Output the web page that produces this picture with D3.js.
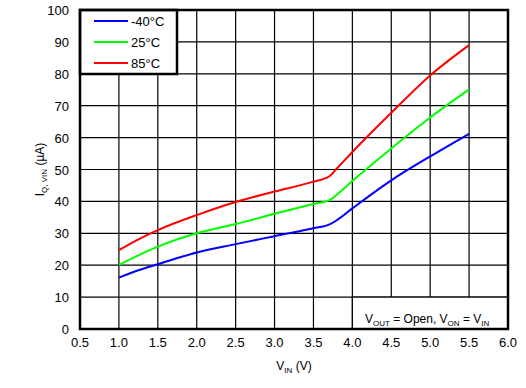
<!DOCTYPE html>
<html>
<head>
<meta charset="utf-8">
<script src="https://cdn.jsdelivr.net/npm/d3@7"></script>
<style>
  body { margin: 0; background: #fff; }
  svg text { font-family: "Liberation Sans", Arial, sans-serif; fill: #000; }
</style>
</head>
<body>
<svg id="chart" width="526" height="388"></svg>
<script>
// data
var vin = [1.0, 1.25, 1.5, 2.0, 2.5, 3.0, 3.5, 3.7, 3.8, 4.0, 4.5, 5.0, 5.5];
var iqMinus40 = [16.1, 18.4, 20.3, 24.0, 26.6, 29.1, 31.6, 32.7, 34.1, 37.8, 46.6, 54.1, 61.2];
var iq25 = [20.1, 23.1, 25.8, 30.0, 32.9, 36.1, 39.2, 40.3, 42.1, 46.4, 56.6, 66.3, 75.1];
var iq85 = [24.7, 28.1, 31.0, 35.7, 39.8, 43.1, 46.2, 47.8, 50.3, 55.5, 67.8, 79.5, 89.0];
var seriesNames = ["-40°C", "25°C", "85°C"];
var seriesColors = ["#0000ff", "#00ff00", "#ff0000"];
var xTicks = [0.5, 1.0, 1.5, 2.0, 2.5, 3.0, 3.5, 4.0, 4.5, 5.0, 5.5, 6.0];
var yTicks = [0, 10, 20, 30, 40, 50, 60, 70, 80, 90, 100];

var svg = d3.select("#chart");
var plotL = 80, plotR = 508, plotT = 10, plotB = 329;

var x = d3.scaleLinear().domain([0.5, 6.0]).range([plotL, plotR]);
var y = d3.scaleLinear().domain([0, 100]).range([plotB, plotT]);

// grid
var grid = svg.append("g");
grid.selectAll(".vg").data(xTicks).enter().append("line")
  .attr("x1", d => x(d)).attr("x2", d => x(d))
  .attr("y1", plotT).attr("y2", plotB)
  .attr("stroke", "#000").attr("stroke-width", 1.2);
grid.selectAll(".hg").data(yTicks).enter().append("line")
  .attr("x1", plotL).attr("x2", plotR)
  .attr("y1", d => y(d)).attr("y2", d => y(d))
  .attr("stroke", "#000").attr("stroke-width", 1.2);

// tick labels
svg.append("g").selectAll("text").data(xTicks).enter().append("text")
  .attr("x", d => x(d)).attr("y", plotB + 18)
  .attr("text-anchor", "middle").attr("font-size", 13)
  .text(d => d.toFixed(1));
svg.append("g").selectAll("text").data(yTicks).enter().append("text")
  .attr("x", plotL - 11).attr("y", d => y(d) + 5)
  .attr("text-anchor", "end").attr("font-size", 13)
  .text(d => d);

// annotation box
svg.append("rect")
  .attr("x", x(4.0)).attr("y", y(10))
  .attr("width", plotR - x(4.0)).attr("height", plotB - y(10))
  .attr("fill", "#fff").attr("stroke", "#000").attr("stroke-width", 1.2);
var ann = svg.append("text").attr("x", 365).attr("y", 323).attr("font-size", 12);
ann.append("tspan").text("V");
ann.append("tspan").attr("font-size", 8).attr("dy", 3).text("OUT");
ann.append("tspan").attr("dy", -3).text(" = Open, V");
ann.append("tspan").attr("font-size", 8).attr("dy", 3).text("ON");
ann.append("tspan").attr("dy", -3).text(" = V");
ann.append("tspan").attr("font-size", 8).attr("dy", 3).text("IN");

// lines
var line = d3.line()
  .x(d => x(d[0])).y(d => y(d[1]))
  .curve(d3.curveMonotoneX);
[iqMinus40, iq25, iq85].forEach(function(s, i) {
  svg.append("path")
    .datum(vin.map((v, j) => [v, s[j]]))
    .attr("d", line)
    .attr("fill", "none")
    .attr("stroke", seriesColors[i])
    .attr("stroke-width", 2);
});

// legend
svg.append("rect")
  .attr("x", plotL).attr("y", plotT).attr("width", 97).attr("height", 64)
  .attr("fill", "#fff").attr("stroke", "#000").attr("stroke-width", 2.5);
seriesNames.forEach(function(name, i) {
  var ly = 21 + i * 21;
  svg.append("line")
    .attr("x1", 94).attr("x2", 128).attr("y1", ly).attr("y2", ly)
    .attr("stroke", seriesColors[i]).attr("stroke-width", 2);
  svg.append("text").attr("x", 131).attr("y", ly + 5)
    .attr("font-size", 13).text(name);
});

// plot frame
svg.append("rect")
  .attr("x", plotL).attr("y", plotT)
  .attr("width", plotR - plotL).attr("height", plotB - plotT)
  .attr("fill", "none").attr("stroke", "#000").attr("stroke-width", 2.5);

// axis titles
var xt = svg.append("text").attr("x", 294).attr("y", 370)
  .attr("text-anchor", "middle").attr("font-size", 12);
xt.append("tspan").text("V");
xt.append("tspan").attr("font-size", 8).attr("dy", 3).text("IN");
xt.append("tspan").attr("dy", -3).text(" (V)");

var yt = svg.append("text")
  .attr("transform", "translate(44," + ((plotT + plotB) / 2) + ") rotate(-90)")
  .attr("text-anchor", "middle").attr("font-size", 12);
yt.append("tspan").text("I");
yt.append("tspan").attr("font-size", 8).attr("dy", 3).text("Q, VIN");
yt.append("tspan").attr("dy", -3).text(" (µA)");
</script>
</body>
</html>
